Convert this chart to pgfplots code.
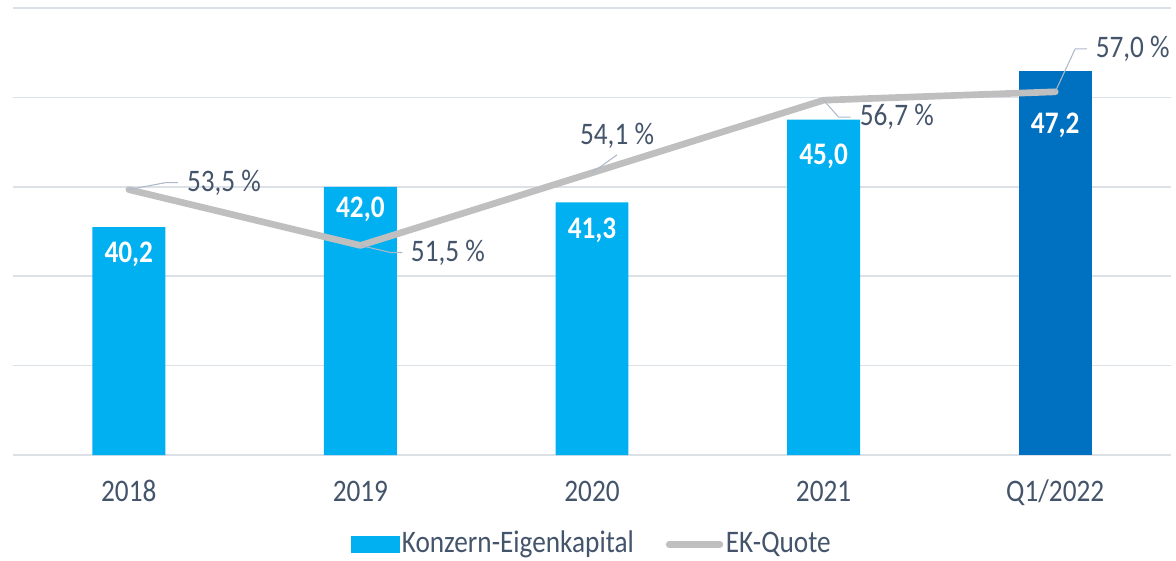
\documentclass[border=0pt]{standalone}
\usepackage{fontspec}
\setmainfont{Carlito}[FakeStretch=0.87]
\usepackage{pgfplots}
\usepackage{pgfplotstable}
\pgfplotsset{compat=1.18}
\definecolor{cA}{HTML}{00B0F0}
\definecolor{cB}{HTML}{0070C0}
\definecolor{cL}{HTML}{BFBFBF}
\definecolor{txt}{HTML}{44546A}
\definecolor{gridc}{HTML}{DCE1E8}
\definecolor{lead}{HTML}{ADB9CA}
\pgfplotstableread{
x y lab off
0 40.2 40,2 20.25
1 42.0 42,0 17.25
2 41.3 41,3 21
3 45.0 45,0 27.75
}\barsA
\pgfplotstableread{
x y lab off
4 47.2 47,2 41.25
}\barsB
\pgfplotstableread{
x y
0 53.5
1 51.5
2 54.1
3 56.7
4 57.0
}\quote
\begin{document}
\fontsize{23.5}{28}\selectfont
\begin{tikzpicture}
\pgfplotsset{
  base/.style={
    scale only axis, width=868.5pt, height=335.25pt,
    xmin=-0.5, xmax=4.5,
    clip=false,
    axis line style={draw=none},
    tick style={draw=none},
  },
  barlbl/.style={
    nodes near coords, point meta=explicit symbolic,
    visualization depends on={\thisrow{off} \as \myoff},
    every node near coord/.append style={anchor=center, yshift=-\myoff pt, text=white,
      font=\fontsize{23.5}{28}\selectfont\bfseries},
  },
}
\begin{axis}[base,
  ymin=30, ymax=50,
  ytick={30,34,...,50}, yticklabels={},
  ymajorgrids, major grid style={color=gridc, line width=1.2pt},
  xtick={0,1,2,3,4},
  xticklabels={2018,2019,2020,2021,Q1/2022},
  xticklabel style={anchor=base, yshift=-34.5pt, text=txt, font=\fontsize{23.5}{28}\selectfont},
]
\addplot[ybar, bar shift=0pt, bar width=0.315, fill=cA, draw=none, barlbl]
  table[x=x, y=y, meta=lab]{\barsA};
\addplot[ybar, bar shift=0pt, bar width=0.315, fill=cB, draw=none, barlbl]
  table[x=x, y=y, meta=lab]{\barsB};
\end{axis}
\begin{axis}[base,
  ymin=44, ymax=60,
  hide x axis, hide y axis,
  legend style={at={(0.5,0)}, anchor=center, yshift=-67pt, draw=none, fill=none,
    legend columns=-1, text=txt, font=\fontsize{23.5}{28}\selectfont,
    /tikz/every even column/.append style={column sep=22pt}},
]
\addlegendimage{legend image code/.code={\fill[cA] (0pt,-6pt) rectangle (36pt,6pt);}}
\addlegendentry{Konzern-Eigenkapital}
\addplot[color=cL, line width=5pt, line cap=round, line join=round,
  legend image code/.code={\draw[cL, line width=5pt, line cap=round] (0pt,0pt) -- (38pt,0pt);}]
  table[x=x, y=y]{\quote};
\addlegendentry{EK-Quote}
\tikzset{lbl/.style={inner sep=0pt, text=txt, font=\fontsize{23.5}{28}\selectfont}}
\draw[lead, line width=0.8pt] (axis cs:0,53.5) -- ++(27.75pt,5.25pt) -- ++(9pt,0pt)
  node[lbl, anchor=west, xshift=6.5pt] {53,5 \%};
\draw[lead, line width=0.8pt] (axis cs:1,51.5) -- ++(22.5pt,-5.25pt) -- ++(9pt,0pt)
  node[lbl, anchor=west, xshift=6pt] {51,5 \%};
\draw[lead, line width=0.8pt] (axis cs:2,54.1) -- ++(18.75pt,13.5pt)
  node[lbl, anchor=base, yshift=8pt] {54,1 \%};
\draw[lead, line width=0.8pt] (axis cs:3,56.7) -- ++(11.25pt,-12.75pt) -- ++(9pt,0pt)
  node[lbl, anchor=west, xshift=6.5pt] {56,7 \%};
\draw[lead, line width=0.8pt] (axis cs:4,57.0) -- ++(15pt,32.25pt) -- ++(9pt,0pt)
  node[lbl, anchor=west, xshift=6pt] {57,0 \%};
\end{axis}
\pgfresetboundingbox
\path[use as bounding box] (-9.75pt,-78.75pt) rectangle (872.25pt,341.25pt);
\end{tikzpicture}
\end{document}
